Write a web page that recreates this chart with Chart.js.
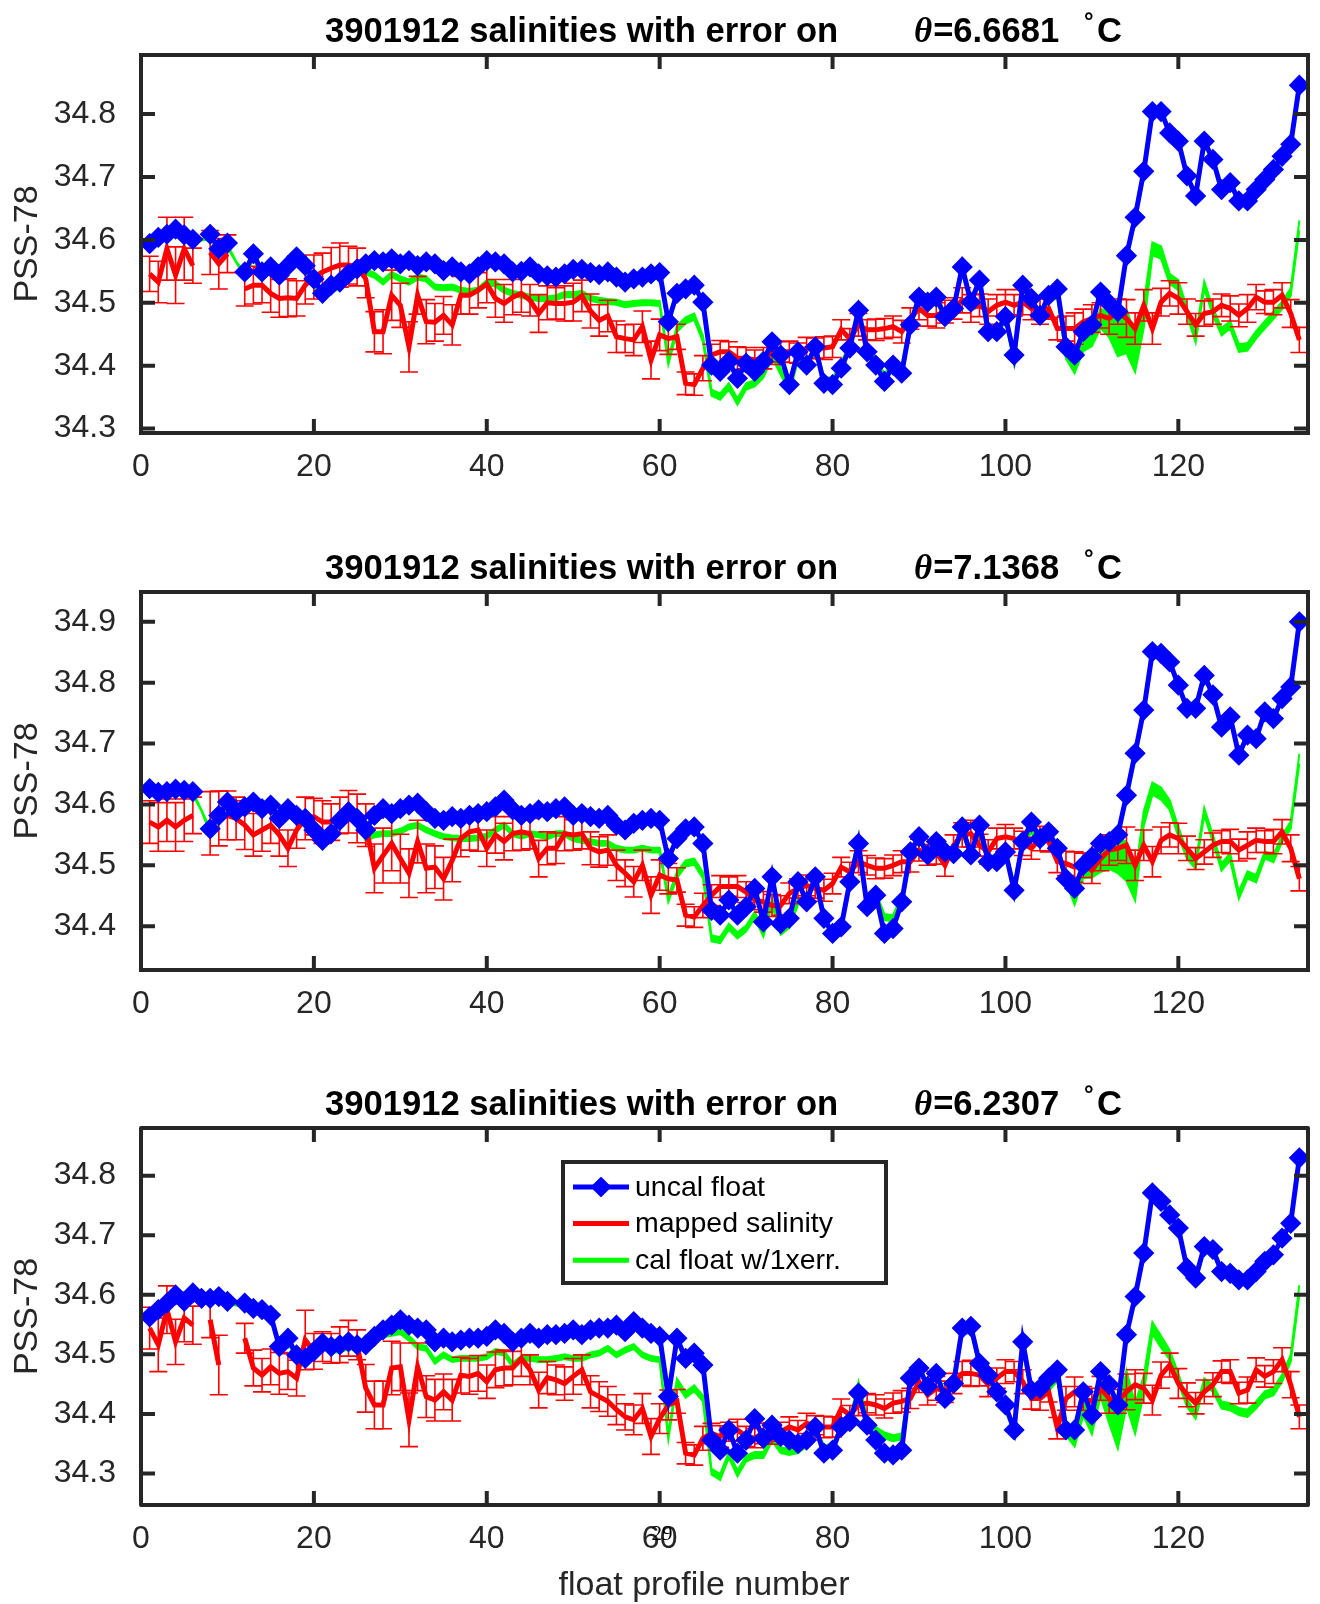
<!DOCTYPE html>
<html><head><meta charset="utf-8">
<script src="https://cdn.jsdelivr.net/npm/chart.js@4.4.1/dist/chart.umd.min.js"></script>
<style>
html,body{margin:0;padding:0;background:#fff}
body{width:1320px;height:1604px;position:relative;overflow:hidden}
canvas{position:absolute;left:0}
</style></head><body>
<canvas id="c1" width="1320" height="510" style="top:0px;width:1320px;height:510px"></canvas>
<canvas id="c2" width="1320" height="530" style="top:510px;width:1320px;height:530px"></canvas>
<canvas id="c3" width="1320" height="564" style="top:1040px;width:1320px;height:564px"></canvas>
<script>
// ---------------- data ----------------
const profiles = [1,2,3,4,5,6,7,8,9,10,11,12,13,14,15,16,17,18,19,20,21,22,23,24,25,26,27,28,29,30,
31,32,33,34,35,36,37,38,39,40,41,42,43,44,45,46,47,48,49,50,51,52,53,54,55,56,57,58,59,60,
61,62,63,64,65,66,67,68,69,70,71,72,73,74,75,76,77,78,79,80,81,82,83,84,85,86,87,88,89,90,
91,92,93,94,95,96,97,98,99,100,101,102,103,104,105,106,107,108,109,110,111,112,113,114,115,116,117,118,119,120,
121,122,123,124,125,126,127,128,129,130,131,132,133,134];
const xTicks = [0,20,40,60,80,100,120];
const p1Ticks = [34.3,34.4,34.5,34.6,34.7,34.8];
const p2Ticks = [34.4,34.5,34.6,34.7,34.8,34.9];
const p3Ticks = [34.3,34.4,34.5,34.6,34.7,34.8];
const thetas = ["6.6681","7.1368","6.2307"];
const seriesNames = ["uncal float","mapped salinity","cal float w/1xerr."];

const p1Uncal = [34.594,34.604,34.609,34.617,34.608,34.601,null,34.609,34.586,34.595,
null,34.549,34.578,34.549,34.557,34.544,34.559,34.573,34.559,34.538,
34.515,34.528,34.533,34.546,34.554,34.562,34.567,34.565,34.570,34.562,
34.567,34.559,34.565,34.562,34.551,34.557,34.549,34.546,34.557,34.567,
34.565,34.562,34.549,34.550,34.557,34.546,34.543,34.541,34.546,34.553,
34.553,34.548,34.545,34.549,34.541,34.533,34.538,34.541,34.546,34.548,
34.470,34.515,34.522,34.528,34.501,34.401,34.391,34.407,34.380,34.404,
34.391,34.407,34.438,34.417,34.370,34.422,34.401,34.430,34.372,34.370,
34.396,34.428,34.488,34.422,34.401,34.375,34.401,34.388,34.465,34.509,
34.501,34.509,34.478,34.491,34.557,34.501,34.536,34.454,34.454,34.478,
34.417,34.528,34.507,34.480,34.512,34.522,34.430,34.417,34.454,34.465,
34.517,34.499,34.486,34.575,34.636,34.709,34.804,34.804,34.770,34.757,
34.702,34.670,34.757,34.728,34.680,34.691,34.662,34.662,34.680,34.696,
34.712,34.733,34.752,34.846];
const p1Mapped = [34.546,34.533,34.586,34.544,34.586,34.559,null,34.580,34.562,34.578,
null,34.522,34.528,34.528,34.515,34.507,34.508,34.507,34.528,34.541,
34.549,34.555,34.560,34.560,34.557,34.538,34.454,34.454,34.512,34.496,
34.430,34.512,34.470,34.469,34.480,34.465,34.512,34.512,34.520,34.530,
34.507,34.499,34.509,34.515,34.504,34.483,34.500,34.499,34.499,34.501,
34.511,34.487,34.472,34.479,34.446,34.443,34.441,34.462,34.409,34.449,
34.443,34.446,34.372,34.370,34.396,34.417,34.422,34.422,34.412,34.412,
34.409,34.412,34.420,34.422,34.422,34.420,34.428,34.428,34.428,34.430,
34.457,34.443,34.465,34.457,34.457,34.459,34.462,34.454,34.475,34.491,
34.480,34.480,34.486,34.491,34.504,34.491,34.496,34.486,34.496,34.501,
34.496,34.501,34.491,34.486,34.491,34.459,34.459,34.459,34.470,34.475,
34.480,34.475,34.486,34.475,34.459,34.496,34.459,34.501,34.515,34.507,
34.486,34.465,34.483,34.486,34.496,34.491,34.480,34.491,34.509,34.501,
34.501,34.512,34.483,34.441];
const p1MappedErr = [0.028,0.033,0.050,0.045,0.050,0.028,null,0.035,0.040,0.030,
null,0.027,0.030,0.028,0.030,0.030,0.030,0.028,0.030,0.035,
0.030,0.033,0.035,0.030,0.030,0.030,0.032,0.035,0.040,0.035,
0.040,0.030,0.035,0.030,0.030,0.032,0.030,0.030,0.028,0.030,
0.030,0.030,0.028,0.030,0.025,0.030,0.027,0.025,0.028,0.030,
0.025,0.027,0.025,0.025,0.025,0.022,0.025,0.025,0.030,0.025,
0.025,0.020,0.018,0.017,0.020,0.017,0.018,0.016,0.018,0.017,
0.016,0.017,0.018,0.016,0.017,0.016,0.017,0.016,0.018,0.017,
0.016,0.016,0.018,0.016,0.017,0.016,0.017,0.018,0.017,0.018,
0.017,0.020,0.018,0.017,0.020,0.022,0.018,0.020,0.017,0.020,
0.017,0.020,0.018,0.020,0.017,0.018,0.020,0.025,0.020,0.022,
0.020,0.025,0.020,0.030,0.025,0.025,0.025,0.022,0.020,0.025,
0.020,0.018,0.020,0.020,0.018,0.020,0.018,0.022,0.020,0.018,
0.020,0.020,0.022,0.020];
const p1Cal = [34.590,34.600,34.605,34.612,34.604,34.597,34.600,34.605,34.582,34.590,
34.565,34.545,34.573,34.545,34.552,34.540,34.555,34.568,34.553,34.532,
34.508,34.520,34.527,34.540,34.547,34.549,34.544,34.533,34.545,34.538,
34.533,34.541,34.538,34.525,34.524,34.525,34.520,34.518,34.520,34.532,
34.530,34.520,34.515,34.512,34.509,34.507,34.506,34.508,34.513,34.513,
34.515,34.507,34.504,34.502,34.501,34.497,34.499,34.500,34.500,34.499,
34.407,34.459,34.472,34.478,34.443,34.357,34.351,34.367,34.343,34.367,
34.372,34.386,34.417,34.391,34.362,34.412,34.401,34.428,34.378,34.375,
34.401,34.430,34.491,34.428,34.407,34.383,34.401,34.396,34.467,34.512,
34.501,34.507,34.475,34.491,34.551,34.501,34.533,34.454,34.454,34.475,
34.407,34.528,34.501,34.478,34.507,34.512,34.417,34.396,34.433,34.443,
34.475,34.465,34.445,34.455,34.420,34.480,34.586,34.580,34.538,34.528,
34.486,34.443,34.528,34.486,34.454,34.465,34.428,34.430,34.449,34.465,
34.480,34.496,34.517,34.623];
const p1CalErr = [0.004,0.004,0.003,0.004,0.004,0.003,0.001,0.004,0.004,0.003,
0.001,0.004,0.004,0.003,0.004,0.004,0.003,0.004,0.004,0.004,
0.004,0.004,0.004,0.004,0.003,0.004,0.004,0.004,0.004,0.004,
0.004,0.004,0.004,0.004,0.004,0.004,0.004,0.004,0.004,0.004,
0.004,0.004,0.004,0.004,0.004,0.004,0.004,0.004,0.004,0.004,
0.004,0.004,0.004,0.004,0.004,0.004,0.004,0.004,0.004,0.004,
0.005,0.005,0.005,0.005,0.005,0.005,0.005,0.005,0.005,0.005,
0.005,0.005,0.005,0.005,0.005,0.005,0.005,0.005,0.005,0.005,
0.005,0.005,0.005,0.005,0.005,0.005,0.005,0.005,0.005,0.005,
0.005,0.005,0.005,0.005,0.005,0.005,0.005,0.005,0.005,0.005,
0.005,0.005,0.005,0.005,0.005,0.005,0.006,0.008,0.010,0.012,
0.015,0.020,0.030,0.035,0.030,0.020,0.010,0.010,0.008,0.008,
0.006,0.006,0.006,0.006,0.006,0.006,0.006,0.006,0.006,0.006,
0.006,0.006,0.006,0.008];

const p2Uncal = [34.626,34.620,34.621,34.625,34.623,34.621,null,34.560,34.582,34.604,
34.588,34.596,34.604,34.593,34.599,34.577,34.593,34.582,34.577,34.558,
34.541,34.552,34.574,34.588,34.577,34.558,34.582,34.593,34.585,34.593,
34.599,34.602,34.588,34.577,34.574,34.580,34.577,34.582,34.585,34.588,
34.596,34.607,34.591,34.582,34.585,34.591,34.588,34.593,34.596,34.582,
34.585,34.580,34.577,34.582,34.566,34.558,34.569,34.574,34.577,34.574,
34.511,34.544,34.560,34.563,34.536,34.426,34.418,34.443,34.418,34.432,
34.462,34.407,34.481,34.404,34.413,34.473,34.440,34.481,34.413,34.388,
34.399,34.473,34.536,34.432,34.451,34.388,34.396,34.440,34.522,34.547,
34.517,34.539,34.522,34.519,34.563,34.517,34.566,34.506,34.506,34.522,
34.459,34.539,34.571,34.544,34.555,34.528,34.478,34.462,34.500,34.514,
34.536,34.539,34.550,34.615,34.684,34.755,34.851,34.848,34.834,34.796,
34.758,34.758,34.812,34.780,34.727,34.744,34.681,34.714,34.708,34.752,
34.741,34.774,34.793,34.900];
const p2Mapped = [34.571,34.563,34.574,34.563,34.574,34.582,null,34.569,34.577,34.582,
34.577,34.566,34.550,34.558,34.566,34.550,34.528,34.558,34.577,34.580,
34.571,34.571,34.582,34.588,34.577,34.566,34.495,34.516,34.536,34.511,
34.487,34.539,34.495,34.497,34.478,34.508,34.544,34.555,34.558,34.528,
34.550,34.539,34.552,34.555,34.552,34.511,34.528,34.528,34.552,34.550,
34.552,34.528,34.522,34.525,34.500,34.487,34.473,34.500,34.451,34.484,
34.478,34.476,34.418,34.415,34.434,34.451,34.465,34.465,34.465,34.456,
34.443,34.440,34.434,34.434,34.454,34.462,34.467,34.462,34.459,34.470,
34.497,34.489,34.506,34.500,34.495,34.495,34.500,34.506,34.506,34.525,
34.517,34.522,34.500,34.533,34.550,34.552,34.533,34.522,34.544,34.547,
34.544,34.536,34.528,34.544,34.539,34.506,34.503,34.497,34.500,34.492,
34.511,34.525,34.528,34.533,34.500,34.533,34.506,34.541,34.550,34.544,
34.528,34.511,34.522,34.533,34.539,34.539,34.525,34.533,34.541,34.539,
34.539,34.555,34.528,34.478];
const p2MappedErr = [0.035,0.040,0.035,0.040,0.035,0.030,null,0.052,0.045,0.040,
0.035,0.040,0.035,0.035,0.030,0.035,0.030,0.030,0.035,0.030,
0.035,0.030,0.030,0.035,0.040,0.035,0.040,0.045,0.045,0.040,
0.040,0.035,0.040,0.035,0.035,0.035,0.030,0.030,0.035,0.030,
0.030,0.030,0.028,0.030,0.025,0.030,0.027,0.025,0.028,0.025,
0.025,0.027,0.025,0.025,0.025,0.022,0.025,0.025,0.030,0.025,
0.025,0.020,0.018,0.017,0.020,0.017,0.018,0.016,0.018,0.017,
0.016,0.017,0.018,0.016,0.017,0.016,0.017,0.016,0.018,0.017,
0.016,0.016,0.018,0.016,0.017,0.016,0.017,0.018,0.017,0.018,
0.017,0.020,0.018,0.017,0.020,0.022,0.018,0.020,0.017,0.020,
0.017,0.020,0.018,0.020,0.017,0.018,0.020,0.025,0.020,0.022,
0.020,0.025,0.020,0.030,0.025,0.025,0.025,0.022,0.020,0.025,
0.020,0.018,0.020,0.020,0.018,0.020,0.018,0.022,0.020,0.018,
0.020,0.020,0.022,0.020];
const p2Cal = [34.622,34.617,34.618,34.622,34.620,34.618,34.590,34.556,34.578,34.600,
34.584,34.592,34.599,34.588,34.594,34.572,34.588,34.578,34.572,34.552,
34.536,34.547,34.569,34.582,34.571,34.544,34.550,34.552,34.552,34.556,
34.563,34.566,34.558,34.552,34.547,34.545,34.544,34.544,34.545,34.548,
34.558,34.566,34.552,34.548,34.552,34.550,34.547,34.552,34.552,34.544,
34.541,34.539,34.536,34.536,34.528,34.525,34.525,34.528,34.525,34.525,
34.445,34.484,34.503,34.506,34.484,34.380,34.377,34.399,34.385,34.396,
34.418,34.388,34.440,34.391,34.402,34.440,34.445,34.481,34.413,34.388,
34.399,34.473,34.544,34.434,34.451,34.415,34.413,34.445,34.522,34.544,
34.517,34.536,34.522,34.522,34.555,34.522,34.555,34.511,34.511,34.522,
34.467,34.539,34.558,34.541,34.552,34.528,34.478,34.443,34.489,34.495,
34.511,34.522,34.517,34.506,34.462,34.577,34.626,34.618,34.599,34.555,
34.517,34.500,34.588,34.544,34.497,34.514,34.451,34.484,34.478,34.517,
34.511,34.544,34.566,34.675];
const p2CalErr = [0.004,0.004,0.003,0.004,0.004,0.003,0.001,0.004,0.004,0.003,
0.004,0.004,0.004,0.003,0.004,0.004,0.003,0.004,0.004,0.004,
0.004,0.004,0.004,0.004,0.003,0.004,0.004,0.004,0.004,0.004,
0.004,0.004,0.004,0.004,0.004,0.004,0.004,0.004,0.004,0.004,
0.004,0.004,0.004,0.004,0.004,0.004,0.004,0.004,0.004,0.004,
0.004,0.004,0.004,0.004,0.004,0.004,0.004,0.004,0.004,0.004,
0.005,0.005,0.005,0.005,0.005,0.005,0.005,0.005,0.005,0.005,
0.005,0.005,0.005,0.005,0.005,0.005,0.005,0.005,0.005,0.005,
0.005,0.005,0.005,0.005,0.005,0.005,0.005,0.005,0.005,0.005,
0.005,0.005,0.005,0.005,0.005,0.005,0.005,0.005,0.005,0.005,
0.005,0.005,0.005,0.005,0.005,0.005,0.006,0.008,0.010,0.015,
0.022,0.028,0.030,0.032,0.020,0.012,0.010,0.010,0.008,0.008,
0.006,0.006,0.006,0.006,0.006,0.006,0.006,0.006,0.006,0.006,
0.006,0.006,0.006,0.008];

const p3Uncal = [34.563,34.575,34.586,34.600,34.589,34.603,34.594,34.594,34.597,34.589,
null,34.586,34.577,34.575,34.566,34.513,34.527,34.499,34.493,34.505,
34.519,34.513,34.516,34.521,34.516,34.516,34.530,34.541,34.549,34.558,
34.549,34.544,34.541,34.521,34.527,34.521,34.524,34.527,34.527,34.530,
34.541,34.535,34.521,34.527,34.535,34.527,34.533,34.533,34.535,34.541,
34.533,34.541,34.544,34.544,34.549,34.538,34.555,34.544,34.535,34.530,
34.429,34.527,34.493,34.502,34.482,34.356,34.339,34.373,34.334,34.356,
34.392,34.359,34.381,34.362,34.356,34.350,34.356,34.378,34.334,34.339,
34.378,34.387,34.435,34.381,34.356,34.334,34.331,34.339,34.460,34.477,
34.446,34.468,34.426,34.451,34.544,34.547,34.485,34.465,34.437,34.415,
34.373,34.521,34.440,34.443,34.460,34.474,34.373,34.373,34.437,34.398,
34.471,34.449,34.415,34.533,34.597,34.670,34.771,34.757,34.734,34.712,
34.645,34.628,34.681,34.676,34.639,34.636,34.625,34.625,34.639,34.656,
34.667,34.695,34.720,34.830];
const p3Mapped = [34.544,34.516,34.575,34.521,34.561,34.549,null,34.558,34.482,null,
null,34.527,34.477,34.465,34.479,34.468,34.471,34.460,34.524,34.505,
34.513,34.510,34.516,34.527,34.516,34.443,34.415,34.415,34.477,34.479,
34.390,34.479,34.429,34.423,34.437,34.423,34.465,34.463,34.468,34.454,
34.474,34.477,34.477,34.493,34.474,34.440,34.461,34.457,34.451,34.463,
34.474,34.437,34.429,34.421,34.407,34.395,34.390,34.409,34.362,34.392,
34.415,34.421,34.334,34.331,34.359,34.367,34.362,34.370,34.373,34.362,
34.359,34.367,34.367,34.370,34.378,34.373,34.384,34.381,34.378,34.378,
34.409,34.398,34.415,34.418,34.415,34.409,34.418,34.421,34.426,34.454,
34.432,34.443,34.437,34.451,34.468,34.468,34.465,34.449,34.460,34.471,
34.471,34.454,34.426,34.426,34.437,34.376,34.426,34.437,34.426,34.421,
34.443,34.426,34.421,34.437,34.449,34.443,34.423,34.465,34.482,34.451,
34.432,34.418,34.437,34.449,34.471,34.471,34.435,34.440,34.474,34.463,
34.471,34.491,34.449,34.395];
const p3MappedErr = [0.035,0.045,0.040,0.038,0.040,0.032,null,0.030,0.050,null,
null,0.025,0.030,0.028,0.030,0.035,0.030,0.030,0.050,0.030,
0.025,0.025,0.030,0.030,0.025,0.040,0.040,0.040,0.045,0.040,
0.045,0.040,0.035,0.035,0.030,0.035,0.030,0.030,0.030,0.028,
0.030,0.030,0.028,0.030,0.025,0.030,0.027,0.025,0.028,0.030,
0.025,0.027,0.025,0.025,0.025,0.022,0.025,0.025,0.030,0.025,
0.025,0.020,0.018,0.017,0.020,0.017,0.018,0.016,0.018,0.017,
0.016,0.017,0.018,0.016,0.017,0.016,0.017,0.016,0.018,0.017,
0.016,0.016,0.018,0.016,0.017,0.016,0.017,0.018,0.017,0.018,
0.017,0.020,0.018,0.017,0.020,0.022,0.018,0.020,0.017,0.020,
0.017,0.020,0.018,0.020,0.017,0.018,0.020,0.025,0.020,0.022,
0.020,0.025,0.020,0.030,0.025,0.025,0.025,0.022,0.020,0.025,
0.020,0.018,0.020,0.020,0.018,0.020,0.018,0.022,0.020,0.018,
0.020,0.020,0.022,0.020];
const p3Cal = [34.561,34.574,34.585,34.599,34.588,34.601,34.593,34.593,34.594,34.587,
34.583,34.583,34.576,34.573,34.563,34.511,34.521,34.496,34.491,34.500,
34.513,34.507,34.507,34.513,34.510,34.516,34.524,34.533,34.535,34.538,
34.527,34.513,34.510,34.488,34.499,34.491,34.493,34.493,34.493,34.496,
34.505,34.502,34.482,34.493,34.493,34.491,34.491,34.493,34.496,34.493,
34.493,34.499,34.502,34.510,34.499,34.507,34.513,34.499,34.493,34.491,
34.362,34.454,34.432,34.443,34.426,34.303,34.294,34.331,34.300,34.325,
34.331,34.331,34.359,34.339,34.336,34.339,34.350,34.376,34.342,34.345,
34.378,34.387,34.449,34.392,34.373,34.364,34.359,34.362,34.460,34.482,
34.446,34.471,34.432,34.449,34.538,34.541,34.482,34.460,34.432,34.409,
34.373,34.516,34.429,34.432,34.443,34.460,34.370,34.353,34.409,34.381,
34.449,34.409,34.370,34.443,34.392,34.449,34.544,34.521,34.499,34.460,
34.418,34.398,34.454,34.443,34.415,34.412,34.404,34.401,34.415,34.432,
34.437,34.460,34.493,34.608];
const p3CalErr = [0.004,0.004,0.003,0.004,0.004,0.003,0.004,0.004,0.004,0.003,
0.001,0.004,0.004,0.003,0.004,0.004,0.003,0.004,0.004,0.004,
0.004,0.004,0.004,0.004,0.003,0.004,0.004,0.004,0.004,0.004,
0.004,0.004,0.004,0.004,0.004,0.004,0.004,0.004,0.004,0.004,
0.004,0.004,0.004,0.004,0.004,0.004,0.004,0.004,0.004,0.004,
0.004,0.004,0.004,0.004,0.004,0.004,0.004,0.004,0.004,0.004,
0.005,0.005,0.005,0.005,0.005,0.005,0.005,0.005,0.005,0.005,
0.005,0.005,0.005,0.005,0.005,0.005,0.005,0.005,0.005,0.005,
0.005,0.005,0.005,0.005,0.005,0.005,0.005,0.005,0.005,0.005,
0.005,0.005,0.005,0.005,0.005,0.005,0.005,0.005,0.005,0.005,
0.005,0.005,0.005,0.005,0.005,0.005,0.006,0.008,0.012,0.015,
0.020,0.025,0.028,0.030,0.025,0.015,0.010,0.010,0.008,0.008,
0.006,0.006,0.006,0.006,0.006,0.006,0.006,0.006,0.006,0.006,
0.006,0.006,0.006,0.008];

// ---------------- drawing ----------------
const C_BLUE = '#0000ff', C_RED = '#ff0000', C_GREEN = '#00ff00', C_AXIS = '#262626';
const SANS = "'Liberation Sans', Arial, Helvetica, sans-serif";
Chart.defaults.font.family = SANS;

function pts(arr) { return profiles.map((p, i) => ({ x: p, y: arr[i] })); }

const matPlugin = {
  id: 'mat',
  beforeDatasetDraw(chart, args, o) {
    if (args.index !== 1) return;
    const { ctx, scales: { x, y } } = chart;
    ctx.save();
    ctx.strokeStyle = C_RED; ctx.lineWidth = 1.6;
    o.mapped.forEach((m, i) => {
      if (m == null || o.err[i] == null) return;
      const px = x.getPixelForValue(profiles[i]);
      const y1 = y.getPixelForValue(m - o.err[i]);
      const y2 = y.getPixelForValue(m + o.err[i]);
      ctx.beginPath();
      ctx.moveTo(px, y1); ctx.lineTo(px, y2);
      ctx.moveTo(px - 9, y1); ctx.lineTo(px + 9, y1);
      ctx.moveTo(px - 9, y2); ctx.lineTo(px + 9, y2);
      ctx.stroke();
    });
    ctx.restore();
  },
  afterDraw(chart, args, o) {
    const { ctx, chartArea: a, scales: { x, y } } = chart;
    ctx.save();
    // legend box
    if (o.legend) {
      const L = o.legend;
      ctx.fillStyle = '#fff';
      ctx.fillRect(L.x, L.y, L.w, L.h);
      ctx.strokeStyle = C_AXIS; ctx.lineWidth = 4;
      ctx.strokeRect(L.x, L.y, L.w, L.h);
      const cols = [C_BLUE, C_RED, C_GREEN];
      ctx.font = '28.5px ' + SANS;
      ctx.textBaseline = 'middle'; ctx.textAlign = 'left';
      seriesNames.forEach((name, i) => {
        const ly = L.y + 25 + i * 36.6;
        ctx.strokeStyle = cols[i]; ctx.lineWidth = 5;
        ctx.beginPath(); ctx.moveTo(L.x + 10, ly); ctx.lineTo(L.x + 66, ly); ctx.stroke();
        if (i === 0) {
          ctx.fillStyle = C_BLUE; ctx.strokeStyle = C_BLUE; ctx.lineWidth = 2; ctx.lineJoin = 'round';
          ctx.beginPath();
          const cx = L.x + 38;
          ctx.moveTo(cx, ly - 9); ctx.lineTo(cx + 9, ly); ctx.lineTo(cx, ly + 9); ctx.lineTo(cx - 9, ly);
          ctx.closePath(); ctx.fill(); ctx.stroke();
        }
        ctx.fillStyle = '#000';
        ctx.fillText(name, L.x + 72, ly + 1);
      });
    }
    // frame
    ctx.strokeStyle = C_AXIS; ctx.lineWidth = 4;
    ctx.strokeRect(a.left, a.top, a.right - a.left, a.bottom - a.top);
    ctx.lineWidth = 4;
    ctx.beginPath();
    xTicks.forEach(v => {
      const px = x.getPixelForValue(v);
      ctx.moveTo(px, a.bottom); ctx.lineTo(px, a.bottom - 14);
      ctx.moveTo(px, a.top); ctx.lineTo(px, a.top + 14);
    });
    o.yTicks.forEach(v => {
      const py = y.getPixelForValue(v);
      ctx.moveTo(a.left, py); ctx.lineTo(a.left + 14, py);
      ctx.moveTo(a.right, py); ctx.lineTo(a.right - 14, py);
    });
    ctx.stroke();
    // title
    const by = a.top - 13;
    ctx.fillStyle = '#000'; ctx.textBaseline = 'alphabetic'; ctx.textAlign = 'left';
    ctx.font = 'bold 34.6px ' + SANS;
    ctx.fillText('3901912 salinities with error on', 325, by);
    ctx.font = 'italic bold 35px "Liberation Serif", "DejaVu Serif", serif';
    ctx.fillText('\u03B8', 914, by);
    const tw = ctx.measureText('\u03B8').width;
    ctx.font = 'bold 34.6px ' + SANS;
    ctx.fillText('=' + o.theta, 914 + tw + 1, by);
    ctx.font = 'bold 24px ' + SANS;
    ctx.fillText('\u00B0', 1084, by - 13);
    ctx.font = 'bold 34.6px ' + SANS;
    ctx.fillText('C', 1097, by);
    // y label
    ctx.save();
    ctx.translate(28, (a.top + a.bottom) / 2);
    ctx.rotate(-Math.PI / 2);
    ctx.font = '34px ' + SANS; ctx.fillStyle = C_AXIS;
    ctx.textAlign = 'center'; ctx.textBaseline = 'middle';
    ctx.fillText('PSS-78', 0, 0);
    ctx.restore();
    // x label and page note
    if (o.xTitle) {
      ctx.font = '34px ' + SANS; ctx.fillStyle = C_AXIS;
      ctx.textAlign = 'center'; ctx.textBaseline = 'middle';
      ctx.fillText(o.xTitle, 704, o.xTitleY);
      ctx.font = '21px "Liberation Serif", "DejaVu Serif", serif'; ctx.fillStyle = '#000';
      ctx.fillText(o.note, 662, o.noteY);
    }
    ctx.restore();
  }
};

function makePanel(id, d) {
  const low = d.cal.map((c, i) => c - d.calErr[i]);
  const high = d.cal.map((c, i) => c + d.calErr[i]);
  return new Chart(document.getElementById(id), {
    type: 'line',
    data: {
      datasets: [
        { label: seriesNames[0], data: pts(d.uncal), borderColor: C_BLUE, backgroundColor: C_BLUE,
          borderWidth: 5, pointStyle: 'rectRot', pointRadius: 8.5, pointBorderWidth: 3,
          pointBorderColor: C_BLUE, pointBackgroundColor: C_BLUE, spanGaps: false, tension: 0, fill: false },
        { label: seriesNames[1], data: pts(d.mapped), borderColor: C_RED, borderWidth: 5,
          pointRadius: 0, spanGaps: false, tension: 0, fill: false },
        { label: 'cal low', data: pts(low), borderColor: C_GREEN, borderWidth: 2,
          pointRadius: 0, tension: 0, fill: false },
        { label: seriesNames[2], data: pts(high), borderColor: C_GREEN, backgroundColor: C_GREEN,
          borderWidth: 2, pointRadius: 0, tension: 0, fill: '-1' }
      ]
    },
    options: {
      responsive: false, animation: false, devicePixelRatio: 1,
      layout: { padding: { left: 0, right: 12, top: d.areaTop, bottom: 0 } },
      plugins: {
        legend: { display: false }, tooltip: { enabled: false }, title: { display: false },
        mat: { mapped: d.mapped, err: d.mappedErr, yTicks: d.yTicks, theta: d.theta,
               legend: d.legend, xTitle: d.xTitle, xTitleY: d.xTitleY, note: d.note, noteY: d.noteY }
      },
      scales: {
        x: { type: 'linear', position: 'bottom', min: 0, max: 135,
             grid: { display: false, drawTicks: false }, border: { display: false },
             ticks: { color: C_AXIS, font: { size: 32 }, padding: 15, maxRotation: 0, autoSkip: false,
                      callback: v => String(v) },
             afterBuildTicks: s => { s.ticks = xTicks.map(v => ({ value: v })); },
             afterFit: s => { s.height = d.xAxisH; } },
        y: { type: 'linear', position: 'left', min: d.yMin, max: d.yMax,
             grid: { display: false, drawTicks: false }, border: { display: false },
             ticks: { color: C_AXIS, font: { size: 32 }, padding: 25, autoSkip: false,
                      callback: v => v.toFixed(1) },
             afterBuildTicks: s => { s.ticks = d.yTicks.map(v => ({ value: v })); },
             afterFit: s => { s.width = 141; } }
      }
    },
    plugins: [matPlugin]
  });
}

makePanel('c1', { uncal: p1Uncal, mapped: p1Mapped, mappedErr: p1MappedErr, cal: p1Cal, calErr: p1CalErr,
  yMin: 34.293, yMax: 34.894, yTicks: p1Ticks, theta: thetas[0], areaTop: 55, xAxisH: 77 });
makePanel('c2', { uncal: p2Uncal, mapped: p2Mapped, mappedErr: p2MappedErr, cal: p2Cal, calErr: p2CalErr,
  yMin: 34.328, yMax: 34.949, yTicks: p2Ticks, theta: thetas[1], areaTop: 82, xAxisH: 70 });
makePanel('c3', { uncal: p3Uncal, mapped: p3Mapped, mappedErr: p3MappedErr, cal: p3Cal, calErr: p3CalErr,
  yMin: 34.247, yMax: 34.880, yTicks: p3Ticks, theta: thetas[2], areaTop: 88, xAxisH: 99,
  legend: { x: 563, y: 122, w: 323, h: 121 },
  xTitle: 'float profile number', xTitleY: 546, note: '29', noteY: 494 });
</script>
</body></html>
